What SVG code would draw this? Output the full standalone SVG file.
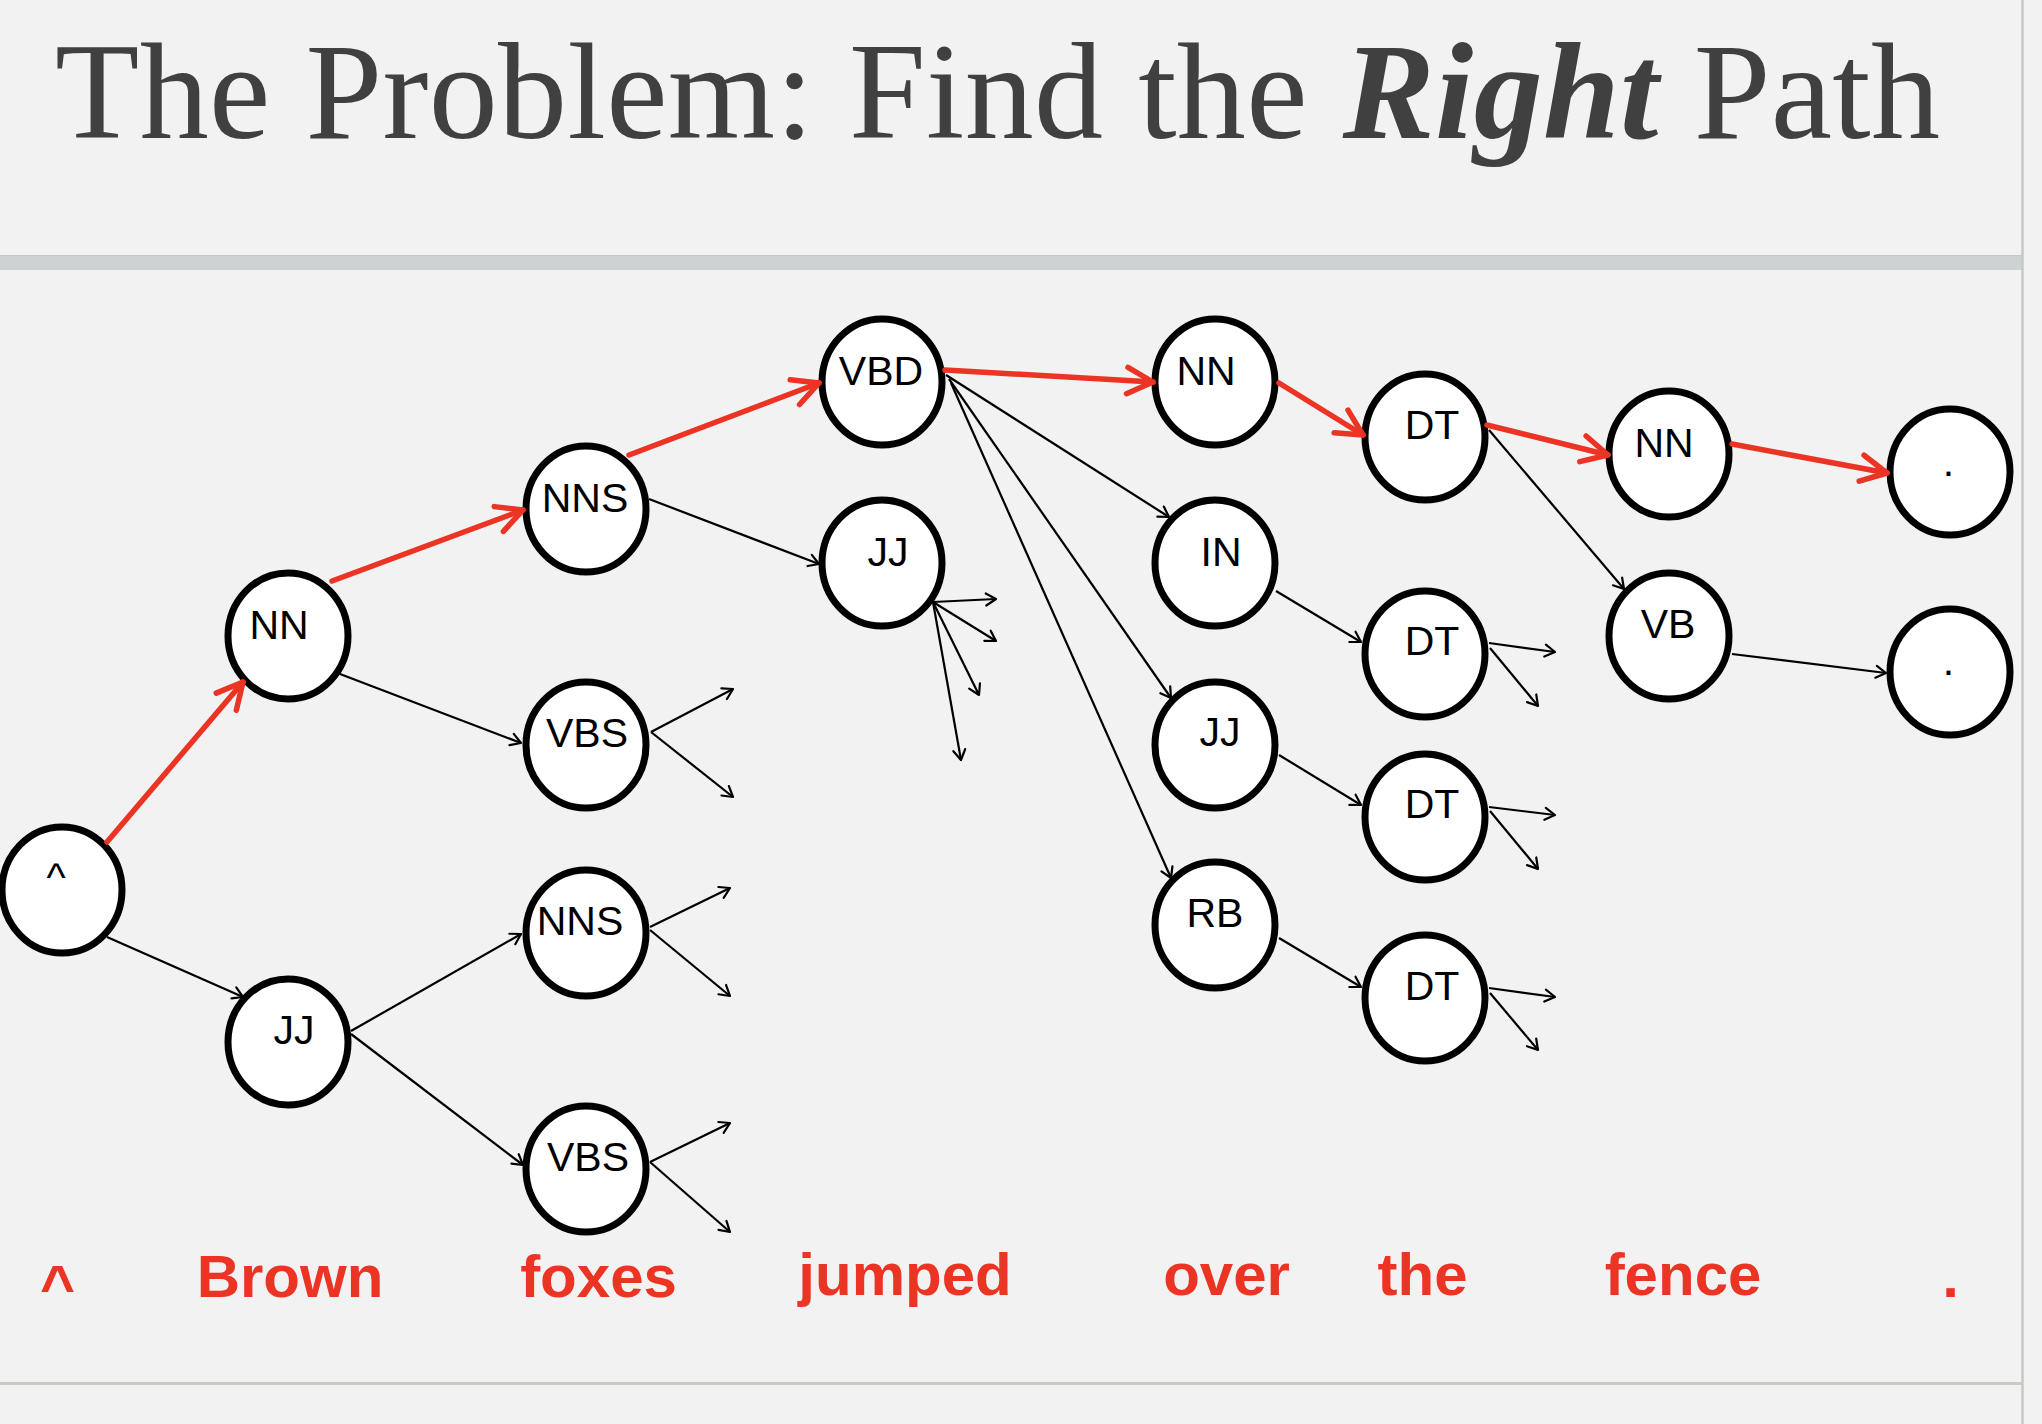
<svg xmlns="http://www.w3.org/2000/svg" width="2042" height="1424" viewBox="0 0 2042 1424">
  <style>
    .node ellipse { fill: #ffffff; stroke: #000000; stroke-width: 7; }
    .node text { font-family: "Liberation Sans", Arial, sans-serif; font-size: 41px; fill: #000000; text-anchor: middle; }
    .edge { fill: none; stroke: #000000; stroke-width: 2.2; marker-end: url(#arrow-black); }
    .best { fill: none; stroke: #ec3425; stroke-width: 5.5; stroke-linecap: round; marker-end: url(#arrow-red); }
    .word { font-family: "Liberation Sans", Arial, sans-serif; font-weight: bold; font-size: 60px; fill: #ec3425; text-anchor: middle; }
  </style>
  <defs>
    <marker id="arrow-black" markerUnits="userSpaceOnUse" orient="auto" refX="0" refY="0" markerWidth="30" markerHeight="30" overflow="visible">
      <path d="M-10,-6 L0,0 L-10,6" fill="none" stroke="#000000" stroke-width="2.2" stroke-linecap="round" stroke-linejoin="round"/>
    </marker>
    <marker id="arrow-red" markerUnits="userSpaceOnUse" orient="auto" refX="0" refY="0" markerWidth="60" markerHeight="60" overflow="visible">
      <path d="M-25.8,-13.2 L0,0 L-25.8,13.2" fill="none" stroke="#ec3425" stroke-width="5.5" stroke-linecap="round" stroke-linejoin="round"/>
    </marker>
  </defs>

  <!-- page background and frame -->
  <rect x="0" y="0" width="2042" height="1424" fill="#f2f2f2"/>
  <rect x="0" y="256" width="2022" height="14" fill="#cdd2d5"/>
  <line x1="0" y1="255.5" x2="2022" y2="255.5" stroke="#c4c7c2" stroke-width="1"/>
  <line x1="0" y1="1383.5" x2="2022" y2="1383.5" stroke="#cbcbc3" stroke-width="3"/>
  <line x1="2022.5" y1="0" x2="2022.5" y2="1424" stroke="#c8c9c0" stroke-width="2.5"/>

  <!-- title -->
  <text x="55" y="138" font-family="'Liberation Serif', 'Times New Roman', serif" font-size="138" fill="#404040" textLength="1885">The Problem: Find the <tspan font-weight="bold" font-style="italic">Right</tspan> Path</text>

  <!-- lattice nodes -->
  <g id="nodes">
    <g id="n-start" class="node"><ellipse cx="62" cy="890" rx="60" ry="63"/><text x="56" y="891">^</text></g>
    <g id="n1-nn" class="node"><ellipse cx="288" cy="636" rx="60" ry="63"/><text x="279" y="639">NN</text></g>
    <g id="n1-jj" class="node"><ellipse cx="288" cy="1042" rx="60" ry="63"/><text x="294" y="1044">JJ</text></g>
    <g id="n2-nns-a" class="node"><ellipse cx="586" cy="509" rx="60" ry="63"/><text x="585" y="512">NNS</text></g>
    <g id="n2-vbs-a" class="node"><ellipse cx="586" cy="745" rx="60" ry="63"/><text x="587" y="747">VBS</text></g>
    <g id="n2-nns-b" class="node"><ellipse cx="586" cy="933" rx="60" ry="63"/><text x="580" y="935">NNS</text></g>
    <g id="n2-vbs-b" class="node"><ellipse cx="586" cy="1169" rx="60" ry="63"/><text x="588" y="1171">VBS</text></g>
    <g id="n3-vbd" class="node"><ellipse cx="882" cy="382" rx="60" ry="63"/><text x="881" y="385">VBD</text></g>
    <g id="n3-jj" class="node"><ellipse cx="882" cy="563" rx="60" ry="63"/><text x="888" y="566">JJ</text></g>
    <g id="n4-nn" class="node"><ellipse cx="1215" cy="382" rx="60" ry="63"/><text x="1206" y="385">NN</text></g>
    <g id="n4-in" class="node"><ellipse cx="1215" cy="563" rx="60" ry="63"/><text x="1221" y="566">IN</text></g>
    <g id="n4-jj" class="node"><ellipse cx="1215" cy="745" rx="60" ry="63"/><text x="1220" y="746">JJ</text></g>
    <g id="n4-rb" class="node"><ellipse cx="1215" cy="925" rx="60" ry="63"/><text x="1215" y="927">RB</text></g>
    <g id="n5-dt-a" class="node"><ellipse cx="1425" cy="437" rx="60" ry="63"/><text x="1432" y="439">DT</text></g>
    <g id="n5-dt-b" class="node"><ellipse cx="1425" cy="654" rx="60" ry="63"/><text x="1432" y="655">DT</text></g>
    <g id="n5-dt-c" class="node"><ellipse cx="1425" cy="817" rx="60" ry="63"/><text x="1432" y="818">DT</text></g>
    <g id="n5-dt-d" class="node"><ellipse cx="1425" cy="998" rx="60" ry="63"/><text x="1432" y="1000">DT</text></g>
    <g id="n6-nn" class="node"><ellipse cx="1669" cy="454" rx="60" ry="63"/><text x="1664" y="457">NN</text></g>
    <g id="n6-vb" class="node"><ellipse cx="1669" cy="636" rx="60" ry="63"/><text x="1668" y="638">VB</text></g>
    <g id="n7-end-a" class="node"><ellipse cx="1950" cy="472" rx="60" ry="63"/><text x="1948.5" y="476">.</text></g>
    <g id="n7-end-b" class="node"><ellipse cx="1950" cy="672" rx="60" ry="63"/><text x="1948.5" y="675">.</text></g>
  </g>

  <!-- transitions -->
  <g id="connectors">
    <!-- candidate transitions -->
    <line class="edge" x1="107" y1="937" x2="243" y2="997"/>
    <line class="edge" x1="340" y1="674" x2="521" y2="743"/>
    <line class="edge" x1="351" y1="1031" x2="521" y2="934"/>
    <line class="edge" x1="351" y1="1034" x2="523" y2="1165"/>
    <line class="edge" x1="649" y1="499" x2="819" y2="564"/>
    <line class="edge" x1="946" y1="375" x2="1169" y2="517"/>
    <line class="edge" x1="949" y1="379" x2="1171" y2="698"/>
    <line class="edge" x1="951" y1="383" x2="1171" y2="878"/>
    <line class="edge" x1="1276" y1="591" x2="1361" y2="642"/>
    <line class="edge" x1="1279" y1="755" x2="1361" y2="805"/>
    <line class="edge" x1="1279" y1="938" x2="1361" y2="987"/>
    <line class="edge" x1="1489" y1="430" x2="1624" y2="589"/>
    <line class="edge" x1="1732" y1="654" x2="1886" y2="673"/>

    <!-- open-ended continuations -->
    <line class="edge" x1="651" y1="732" x2="733" y2="689"/>
    <line class="edge" x1="651" y1="732" x2="733" y2="797"/>
    <line class="edge" x1="650" y1="927" x2="730" y2="888"/>
    <line class="edge" x1="650" y1="930" x2="730" y2="996"/>
    <line class="edge" x1="650" y1="1162" x2="730" y2="1123"/>
    <line class="edge" x1="650" y1="1162" x2="730" y2="1232"/>
    <line class="edge" x1="933" y1="602" x2="996" y2="599"/>
    <line class="edge" x1="933" y1="602" x2="996" y2="641"/>
    <line class="edge" x1="933" y1="602" x2="979" y2="695"/>
    <line class="edge" x1="933" y1="602" x2="961" y2="760"/>
    <line class="edge" x1="1489" y1="643" x2="1555" y2="652"/>
    <line class="edge" x1="1490" y1="648" x2="1538" y2="706"/>
    <line class="edge" x1="1489" y1="807" x2="1555" y2="815"/>
    <line class="edge" x1="1490" y1="811" x2="1538" y2="869"/>
    <line class="edge" x1="1489" y1="988" x2="1555" y2="997"/>
    <line class="edge" x1="1490" y1="993" x2="1538" y2="1050"/>

    <!-- best path -->
    <line class="best" x1="107" y1="842" x2="243" y2="682"/>
    <line class="best" x1="332" y1="581" x2="523" y2="510"/>
    <line class="best" x1="629" y1="455" x2="819" y2="383"/>
    <line class="best" x1="945" y1="370" x2="1153" y2="382"/>
    <line class="best" x1="1279" y1="383" x2="1363" y2="435"/>
    <line class="best" x1="1487" y1="425" x2="1608" y2="455"/>
    <line class="best" x1="1732" y1="444" x2="1887" y2="473"/>
  </g>

  <!-- sentence -->
  <g id="sentence">
    <text class="word" x="57.5" y="1307">^</text>
    <text class="word" x="290" y="1297">Brown</text>
    <text class="word" x="598.5" y="1297">foxes</text>
    <text class="word" x="905" y="1295">jumped</text>
    <text class="word" x="1226.5" y="1295">over</text>
    <text class="word" x="1422.5" y="1295">the</text>
    <text class="word" x="1683" y="1295">fence</text>
    <text class="word" x="1950.5" y="1297">.</text>
  </g>
</svg>
